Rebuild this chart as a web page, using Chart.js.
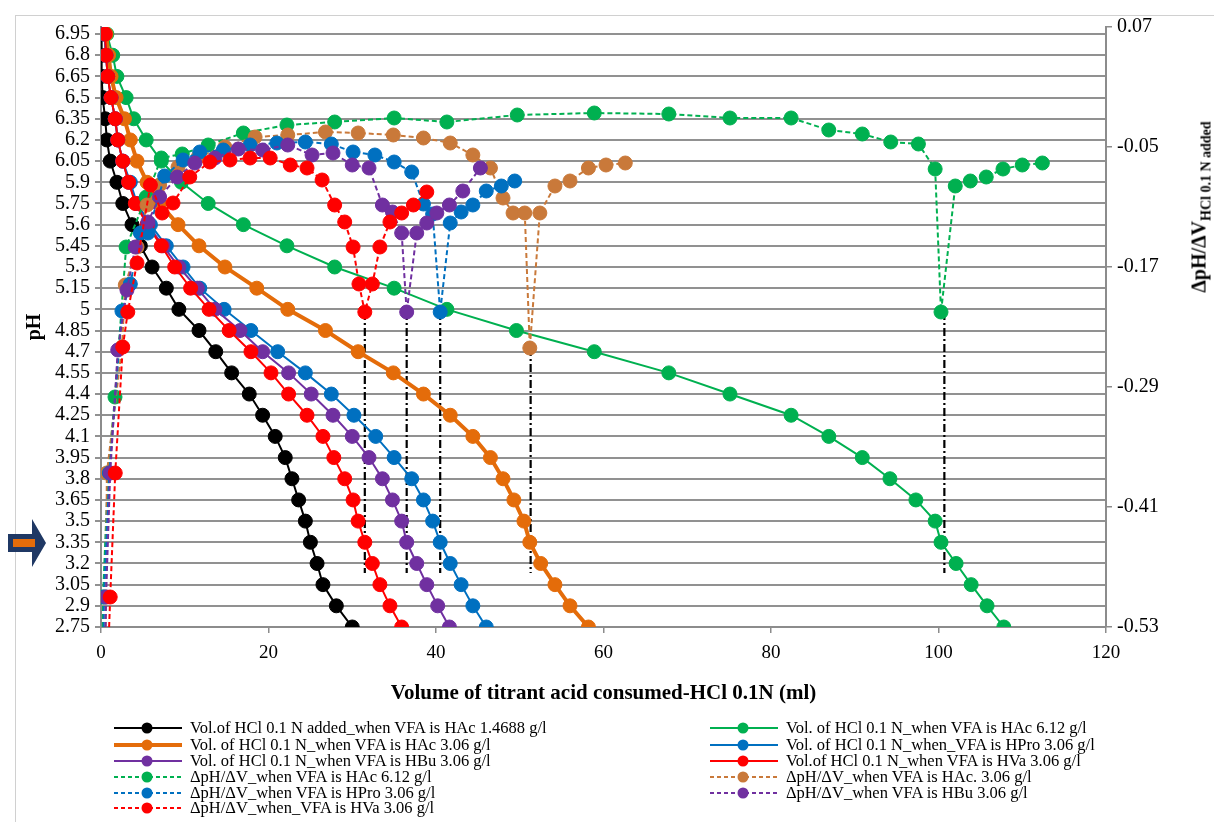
<!DOCTYPE html>
<html>
<head>
<meta charset="utf-8">
<title>Titration curves and derivative curves</title>
<script src="https://cdn.jsdelivr.net/npm/chart.js@4.4.1/dist/chart.umd.min.js"></script>
<style>
  html, body { margin: 0; padding: 0; background: #fff; overflow: hidden; }
  #wrap { position: relative; width: 1214px; height: 822px; overflow: hidden; }
  #frame { position: absolute; left: 15px; top: 15px; width: 1300px; height: 900px;
           border-left: 1px solid #d0d0d0; border-top: 1px solid #d0d0d0; }
  #c { position: absolute; left: 0; top: 0; }
  .leg { position: absolute; height: 16px; display: flex; align-items: center; white-space: nowrap;
         font-family: 'Liberation Serif', 'Times New Roman', serif; font-size: 16.5px; color: #000; }
  .leg span { margin-left: 8px; }
  #rtitle { position: absolute; left: 1201px; top: 207px; white-space: nowrap;
            transform: translate(-50%, -50%) rotate(-90deg);
            font-family: 'Liberation Serif', 'Times New Roman', serif; font-weight: bold; font-size: 20px; color: #000; }
  #rtitle sub { font-size: 14px; }
  #arrow { position: absolute; left: 0; top: 510px; }
</style>
</head>
<body>
<div id="wrap">
  <div id="frame"></div>
  <canvas id="c" width="1214" height="822"></canvas>
  <div id="rtitle">&Delta;pH/&Delta;V<sub>HCl 0.1 N added</sub></div>
  <svg id="arrow" width="60" height="70" viewBox="0 510 60 70">
    <polygon points="8,534 32,534 32,519 46,543 32,567 32,552 8,552" fill="#1F3864"/>
    <rect x="13" y="539" width="22" height="8" fill="#E46C0A"/>
  </svg>
  <div id="legend"></div>
</div>
<script>
// pH readings taken at every 0.15 step during the titration (shared by all runs)
const pHSteps = [6.95, 6.8, 6.65, 6.5, 6.35, 6.2, 6.05, 5.9, 5.75, 5.6, 5.45, 5.3, 5.15, 5.0,
                 4.85, 4.7, 4.55, 4.4, 4.25, 4.1, 3.95, 3.8, 3.65, 3.5, 3.35, 3.2, 3.05, 2.9, 2.75];

// Volume of HCl 0.1 N added (ml) at each pH step
const volHAc1468 = [0, 0.05, 0.1, 0.2, 0.5, 0.7, 1.1, 1.9, 2.6, 3.7, 4.7, 6.1, 7.8, 9.3, 11.7, 13.7,
                    15.6, 17.7, 19.3, 20.8, 22.0, 22.8, 23.6, 24.4, 25.0, 25.8, 26.5, 28.1, 30.0];
const volHAc612  = [0.7, 1.4, 1.9, 3.0, 3.9, 5.4, 7.2, 9.6, 12.8, 17.0, 22.2, 27.9, 35.0, 41.3, 49.6,
                    58.9, 67.8, 75.1, 82.4, 86.9, 90.9, 94.2, 97.3, 99.6, 100.3, 102.1, 103.9, 105.8, 107.8];
const volHAc306  = [0.6, 0.9, 1.2, 1.8, 2.8, 3.5, 4.3, 5.5, 7.0, 9.2, 11.7, 14.8, 18.6, 22.3, 26.8,
                    30.7, 34.9, 38.5, 41.7, 44.4, 46.5, 48.0, 49.3, 50.5, 51.2, 52.5, 54.2, 56.0, 58.2];
const volHPro306 = [0.4, 0.6, 0.8, 1.2, 1.7, 2.0, 2.6, 3.5, 4.3, 5.9, 7.8, 9.8, 11.8, 14.7, 17.9,
                    21.1, 24.4, 27.5, 30.2, 32.8, 35.0, 37.1, 38.5, 39.6, 40.5, 41.7, 43.0, 44.4, 46.0];
const volHBu306  = [0.4, 0.6, 0.8, 1.2, 1.7, 2.0, 2.6, 3.3, 4.2, 5.6, 7.4, 9.3, 11.5, 13.6, 16.6,
                    19.3, 22.4, 25.1, 27.7, 30.0, 32.0, 33.6, 34.8, 35.9, 36.5, 37.7, 38.9, 40.2, 41.6];
const volHVa306  = [0.5, 0.6, 0.8, 1.2, 1.7, 2.0, 2.6, 3.3, 4.1, 5.5, 7.2, 8.8, 10.7, 12.9, 15.3,
                    17.9, 20.3, 22.4, 24.6, 26.5, 27.8, 29.1, 30.1, 30.7, 31.5, 32.4, 33.3, 34.5, 35.9];

// First derivative dpH/dV (secondary axis): volume positions and values
const dVolHAc612 = [0.1, 0.24, 0.84, 1.67, 3.0, 5.4, 7.2, 9.7, 12.8, 17.0, 22.2, 27.9, 35.0, 41.3, 49.7,
                    58.9, 67.8, 75.1, 82.4, 86.9, 90.9, 94.3, 97.6, 99.6, 100.3, 102.0, 103.8, 105.7, 107.7, 110.0, 112.4];
const dHAc612    = [-0.65, -0.50, -0.376, -0.30, -0.15, -0.10, -0.061, -0.057, -0.048, -0.036, -0.028, -0.025,
                    -0.021, -0.025, -0.018, -0.016, -0.017, -0.021, -0.021, -0.033, -0.037, -0.045, -0.047,
                    -0.072, -0.215, -0.089, -0.084, -0.080, -0.072, -0.068, -0.066];
const dVolHAc306 = [0.35, 0.6, 0.7, 2.5, 2.9, 4.3, 5.5, 7.0, 9.2, 11.6, 14.8, 18.4, 22.3, 26.8, 30.7,
                    34.9, 38.5, 41.7, 44.4, 46.5, 48.0, 49.2, 50.6, 51.2, 52.4, 54.2, 56.0, 58.2, 60.3, 62.6];
const dHAc306    = [-0.65, -0.50, -0.376, -0.25, -0.188, -0.15, -0.108, -0.088, -0.070, -0.060, -0.050, -0.040,
                    -0.038, -0.035, -0.036, -0.038, -0.041, -0.046, -0.058, -0.071, -0.101, -0.116, -0.116,
                    -0.251, -0.116, -0.089, -0.084, -0.071, -0.068, -0.066];
const dVolHPro306 = [0.25, 0.35, 1.0, 2.5, 3.5, 4.7, 5.6, 7.6, 9.8, 11.8, 14.6, 17.8, 21.0, 24.4, 27.5,
                     30.1, 32.7, 35.0, 37.1, 38.5, 39.6, 40.5, 41.7, 43.0, 44.4, 46.0, 47.8, 49.4];
const dHPro306    = [-0.65, -0.50, -0.376, -0.214, -0.187, -0.136, -0.136, -0.079, -0.063, -0.055, -0.053,
                     -0.048, -0.046, -0.045, -0.047, -0.055, -0.058, -0.065, -0.075, -0.107, -0.117, -0.215,
                     -0.126, -0.115, -0.108, -0.094, -0.089, -0.084];
const dVolHBu306 = [0.35, 0.6, 1.1, 2.0, 3.1, 4.1, 5.6, 7.0, 9.1, 11.2, 13.6, 16.4, 19.3, 22.3, 25.2,
                    27.7, 30.0, 32.0, 33.6, 34.8, 35.9, 36.5, 37.7, 38.9, 40.1, 41.6, 43.2, 45.3];
const dHBu306    = [-0.65, -0.50, -0.376, -0.253, -0.193, -0.150, -0.125, -0.100, -0.080, -0.066, -0.061,
                    -0.052, -0.053, -0.048, -0.058, -0.056, -0.068, -0.071, -0.108, -0.115, -0.136, -0.215,
                    -0.136, -0.126, -0.116, -0.108, -0.094, -0.071];
const dVolHVa306 = [0.45, 1.1, 1.7, 2.6, 3.2, 4.3, 5.9, 7.3, 8.6, 10.6, 13.0, 15.4, 17.8, 20.2, 22.6,
                    24.6, 26.4, 27.9, 29.1, 30.1, 30.8, 31.5, 32.4, 33.3, 34.5, 35.9, 37.3, 38.9];
const dHVa306    = [-0.65, -0.50, -0.376, -0.250, -0.215, -0.166, -0.088, -0.116, -0.106, -0.080, -0.065,
                    -0.063, -0.061, -0.061, -0.068, -0.071, -0.083, -0.108, -0.125, -0.150, -0.187, -0.215,
                    -0.187, -0.150, -0.125, -0.116, -0.108, -0.095];

// Equivalence points: drop lines from the derivative minimum
const eqVolumes = [31.5, 36.5, 40.5, 51.3, 100.7];
const eqTop     = [-0.215, -0.215, -0.215, -0.251, -0.215];
const eqBottom  = [-0.476, -0.476, -0.476, -0.476, -0.476];

// Axis tick labels
const pHTicks = [2.75, 2.9, 3.05, 3.2, 3.35, 3.5, 3.65, 3.8, 3.95, 4.1, 4.25, 4.4, 4.55, 4.7, 4.85,
                 5.0, 5.15, 5.3, 5.45, 5.6, 5.75, 5.9, 6.05, 6.2, 6.35, 6.5, 6.65, 6.8, 6.95];
const derivTicks = [0.07, -0.05, -0.17, -0.29, -0.41, -0.53];
const volTicks = [0, 20, 40, 60, 80, 100, 120];

const SERIF = "'Liberation Serif', 'Times New Roman', serif";
const C = { black: '#000000', green: '#00B050', orange: '#E46C0A', blue: '#0070C0',
            purple: '#7030A0', red: '#FF0000', tan: '#C9793A' };

const pts = (xs, ys) => xs.map((x, i) => ({ x: x, y: ys[i] }));

function solid(label, vols, color, width) {
  return { label, data: pts(vols, pHSteps), yAxisID: 'y', borderColor: color, backgroundColor: color,
           borderWidth: width, pointRadius: 7, pointHoverRadius: 7, pointBackgroundColor: color,
           pointBorderColor: color, pointBorderWidth: 1, tension: 0, fill: false, kind: 'solid' };
}
function deriv(label, vols, vals, color) {
  return { label, data: pts(vols, vals), yAxisID: 'y2', borderColor: color, backgroundColor: color,
           borderWidth: 2, borderDash: [5, 3], pointRadius: 7, pointHoverRadius: 7,
           pointBackgroundColor: color, pointBorderColor: color, pointBorderWidth: 1,
           tension: 0, fill: false, kind: 'dash' };
}

const series = [
  solid('Vol.of HCl 0.1 N added_when VFA is HAc 1.4688 g/l', volHAc1468, C.black, 2),
  solid('Vol. of HCl 0.1 N_when VFA is HAc 6.12 g/l', volHAc612, C.green, 2),
  solid('Vol. of HCl 0.1 N_when VFA is HAc 3.06 g/l', volHAc306, C.orange, 4),
  solid('Vol. of HCl 0.1 N_when_VFA is HPro 3.06 g/l', volHPro306, C.blue, 2),
  solid('Vol. of HCl 0.1 N_when VFA is HBu 3.06 g/l', volHBu306, C.purple, 2),
  solid('Vol.of HCl 0.1 N_when VFA is HVa 3.06 g/l', volHVa306, C.red, 2),
  deriv('\u0394pH/\u0394V_when VFA is HAc 6.12 g/l', dVolHAc612, dHAc612, C.green),
  deriv('\u0394pH/\u0394V_when VFA is HAc. 3.06 g/l', dVolHAc306, dHAc306, C.tan),
  deriv('\u0394pH/\u0394V_when VFA is HPro 3.06 g/l', dVolHPro306, dHPro306, C.blue),
  deriv('\u0394pH/\u0394V_when VFA is HBu 3.06 g/l', dVolHBu306, dHBu306, C.purple),
  deriv('\u0394pH/\u0394V_when_VFA is HVa 3.06 g/l', dVolHVa306, dHVa306, C.red)
];
// later series sit on top of earlier ones
series.forEach((d, i) => { d.order = -i; });

const dropLines = eqVolumes.map((v, i) => ({
  label: 'equivalence ' + (i + 1),
  data: [{ x: v, y: eqTop[i] }, { x: v, y: eqBottom[i] }],
  yAxisID: 'y2', borderColor: '#000', borderWidth: 2.2, borderDash: [8, 3, 2, 3],
  pointRadius: 0, fill: false, order: 50, kind: 'drop'
}));

const fmt = v => String(+Number(v).toFixed(2));

new Chart(document.getElementById('c'), {
  type: 'line',
  data: { datasets: dropLines.concat(series) },
  options: {
    responsive: false,
    animation: false,
    events: [],
    layout: { padding: { left: 15, right: 0, top: 27, bottom: 115 } },
    plugins: { legend: { display: false }, tooltip: { enabled: false } },
    scales: {
      x: {
        type: 'linear', position: 'bottom', min: 0, max: 120,
        afterBuildTicks(s) { s.ticks = volTicks.map(v => ({ value: v })); },
        ticks: { font: { family: SERIF, size: 19 }, color: '#000', padding: 9, maxRotation: 0,
                 autoSkip: false, callback: fmt },
        grid: { drawOnChartArea: false, drawTicks: true, tickLength: 6, color: '#8c8c8c', lineWidth: 1.5 },
        border: { color: '#8c8c8c', width: 2 },
        title: { display: true, text: 'Volume of titrant acid consumed-HCl 0.1N (ml)', color: '#000',
                 font: { family: SERIF, size: 21, weight: 'bold' }, padding: { top: 0, bottom: 1 } },
        afterFit(s) { s.height = 80; }
      },
      y: {
        type: 'linear', position: 'left', min: 2.75, max: 7.0,
        afterBuildTicks(s) { s.ticks = pHTicks.map(v => ({ value: v })); },
        ticks: { font: { family: SERIF, size: 20 }, color: '#000', padding: 5, autoSkip: false, callback: fmt },
        grid: { color: '#919191', lineWidth: 2, drawTicks: true, tickLength: 6 },
        border: { color: '#8c8c8c', width: 2 },
        title: { display: true, text: 'pH', color: '#000',
                 font: { family: SERIF, size: 20, weight: 'bold' }, padding: { top: 8, bottom: 0 } },
        afterFit(s) { s.width = 86; }
      },
      y2: {
        type: 'linear', position: 'right', min: -0.53, max: 0.07,
        afterBuildTicks(s) { s.ticks = derivTicks.map(v => ({ value: v })); },
        ticks: { font: { family: SERIF, size: 20 }, color: '#000', padding: 5, autoSkip: false, callback: fmt },
        grid: { drawOnChartArea: false, drawTicks: true, tickLength: 6, color: '#8c8c8c', lineWidth: 1.5 },
        border: { color: '#8c8c8c', width: 2 },
        afterFit(s) { s.width = 108; }
      }
    }
  }
});

// Two-column legend built from the series definitions
const legendCols = [
  { sample: 114, rows: [0, 2, 4, 6, 8, 10] },
  { sample: 710, rows: [1, 3, 5, 7, 9] }
];
const rowY = [728, 745, 761, 777, 793, 808];
const legendEl = document.getElementById('legend');
legendCols.forEach(col => {
  col.rows.forEach((idx, r) => {
    const d = series[idx];
    const dash = d.kind === 'dash' ? ' stroke-dasharray="4 3"' : '';
    const item = document.createElement('div');
    item.className = 'leg';
    item.style.left = col.sample + 'px';
    item.style.top = (rowY[r] - 8) + 'px';
    item.innerHTML =
      '<svg width="68" height="16"><line x1="0" y1="8" x2="68" y2="8" stroke="' + d.borderColor +
      '" stroke-width="' + d.borderWidth + '"' + dash + '/><circle cx="33" cy="8" r="5.5" fill="' +
      d.borderColor + '"/></svg>';
    const t = document.createElement('span');
    t.textContent = d.label;
    item.appendChild(t);
    legendEl.appendChild(item);
  });
});
</script>
</body>
</html>
